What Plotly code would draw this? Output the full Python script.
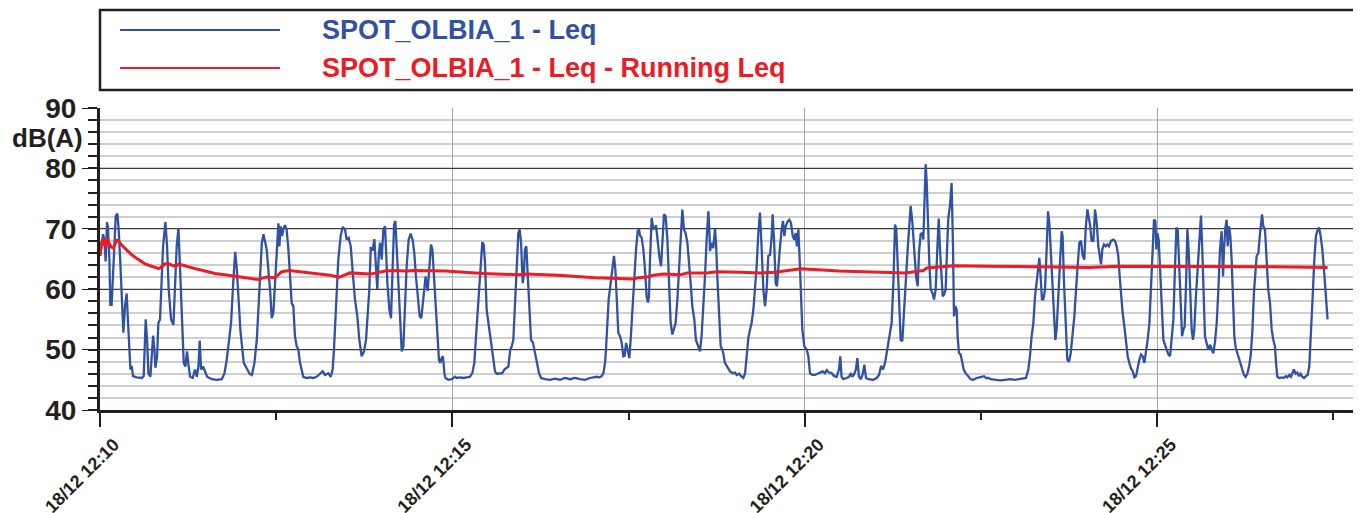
import pandas as pd
import plotly.graph_objects as go

# ---------------- data (seconds after 18/12 12:10:00, dB(A)) ----------------
leq_t = [
    0, 1.4, 2.6, 3.7, 4.8, 6.0, 6.8, 8.0, 8.8, 9.9, 11.1, 12.2, 13.4, 14.8, 15.9, 17.3, 18.8, 19.9,
    21.3, 22.7, 23.9, 25.0, 25.9, 27.0, 28.1, 31.3, 35.5, 37.2, 38.1, 38.9, 40.1, 41.2, 42.9, 44.0,
    45.2, 46.3, 47.2, 48.6, 49.7, 51.1, 52.3, 53.7, 55.7, 57.1, 58.5, 60.5, 62.5, 63.9, 65.3, 66.8,
    68.2, 69.6, 71.3, 72.7, 74.1, 75.3, 76.7, 78.9, 80.9, 82.4, 83.8, 84.9, 86.1, 87.8, 89.5, 91.2,
    95.2, 99.4, 103.7, 105.9, 107.9, 110.2, 111.6, 113.4, 115.1, 116.5, 117.9, 119.6, 122.4, 125.0,
    127.3, 129.3, 131.5, 133.5, 134.9, 136.4, 137.8, 139.2, 140.6,
    141.9, 145.0, 146.2, 147.6, 149.0, 150.4, 151.9, 152.7, 153.8, 155.0, 156.1, 157.5, 158.9, 160.4,
    161.8, 163.2, 164.6, 166.0, 167.4, 168.9, 170.3, 171.7, 173.1, 176.0, 178.8, 181.6, 184.4, 187.3,
    189.6, 191.6, 194.4, 196.4, 198.1, 199.2, 200.9, 202.9, 204.9, 206.6, 208.6, 210.0, 211.7, 213.5,
    215.2, 217.1, 219.1, 220.8, 222.8, 224.8, 226.5, 227.6, 229.3, 230.5, 232.2, 233.6, 234.7, 236.1,
    237.3, 238.4, 239.8, 241.3, 242.7, 243.5, 244.7, 246.4, 247.8, 249.2, 250.4, 251.5, 252.6, 254.0,
    255.4, 256.9, 258.3, 259.4, 261.1, 262.8, 264.5, 266.2, 267.6, 269.0, 270.8, 272.2, 273.6, 274.7,
    276.1, 277.2, 279.0,
    280.7, 281.8, 283.0, 284.7, 286.1, 287.5, 288.6, 289.8, 290.9, 292.0, 293.2, 294.2, 296.6, 299.4,
    302.3, 303.7, 306.5, 309.4, 312.2, 315.0, 317.0, 318.7, 319.8, 321.3, 322.7, 324.1, 325.5, 326.7,
    327.8, 329.2, 330.6, 332.1, 333.5, 334.9, 336.3, 337.7, 340.5, 342.6, 344.3, 345.7, 347.7, 349.3,
    350.5, 351.9, 353.3, 354.8, 356.2, 357.3, 358.5, 359.9, 361.0, 361.8, 363.0, 364.1, 365.5, 367.0,
    368.7, 370.4, 372.1, 373.8, 375.5, 378.9, 383.2, 387.4, 391.7, 395.9, 400.2, 404.4, 408.7, 412.9,
    417.2,
    420.0, 422.9, 425.2, 427.1, 428.6, 430.0, 430.8, 432.0, 433.1, 434.8, 436.2, 437.6, 438.8, 439.9,
    441.3, 442.8, 444.2, 445.6, 446.7, 447.9, 449.3, 450.7, 451.8, 453.2, 454.7, 456.4, 457.8, 458.9,
    459.8, 461.2, 462.6, 464.0, 465.4, 466.6, 467.4, 468.3, 469.7, 471.1, 472.6, 473.4, 474.8, 476.2,
    477.7, 479.1, 480.2, 481.6, 483.1, 484.5, 485.9, 487.3, 488.7, 490.1, 491.6, 493.0, 494.4, 495.8,
    497.2, 498.6, 500.1, 501.5, 502.9, 504.3, 506.0, 507.4, 509.2, 510.9, 512.3, 513.7, 515.1, 516.5,
    518.0, 518.8, 519.4, 520.8, 522.2, 523.6, 524.5, 525.6, 527.1, 528.5, 529.9, 530.7, 532.1, 533.6,
    535.0, 536.4, 538.7, 540.6, 542.1, 544.3, 546.3, 547.7, 549.2, 550.6, 552.0, 553.4, 554.8, 556.3,
    559.1, 560.5, 561.9, 563.4, 564.8, 566.2, 567.6, 569.0, 570.5, 571.9, 572.7, 573.9, 575.3, 576.4,
    577.6, 579.0, 580.4, 581.5, 582.7, 583.8, 585.2, 586.9, 588.3, 589.8, 591.2, 592.3, 593.4, 594.6,
    595.7, 596.9, 598.0, 599.7, 601.7, 603.1, 604.5, 606.5, 608.8, 611.0, 613.0, 615.3, 617.3, 618.7,
    620.7, 622.9, 625.2, 627.2, 629.2, 630.3, 631.4, 632.9, 635.7, 637.7, 639.4, 640.5, 642.3, 643.6,
    644.8, 646.2, 647.9, 649.6, 650.8, 652.2, 654.2, 658.4, 661.3, 663.3, 665.0, 666.7, 668.4, 669.8,
    671.2, 672.6, 674.0, 675.5, 676.9, 678.0, 679.2, 680.3, 681.7, 683.1, 684.6, 686.0, 687.7, 689.1,
    690.2, 691.7, 693.1, 694.8, 696.2, 697.3, 698.7, 700.2,
    701.0, 702.1, 703.0, 703.9, 705.0, 706.1, 707.3, 708.7, 710.1, 711.5, 713.0, 714.1, 715.2, 716.4,
    717.5, 718.6, 720.0, 721.2, 722.3, 723.7, 725.1, 726.3, 727.1, 728.3, 729.4, 730.2, 731.4, 732.8,
    733.9, 735.4, 737.0, 739.3, 741.3, 743.6, 746.4, 748.7, 750.7, 752.7, 754.4, 756.4, 758.3, 762.0,
    766.3, 770.6, 774.8, 779.1, 783.3, 786.7, 788.4, 790.4, 791.8, 793.2, 794.7, 796.1, 797.5, 798.9,
    799.8, 800.9, 802.0, 803.2, 804.6, 806.0, 807.2, 808.3, 809.4, 810.8, 812.3, 813.4, 814.5, 815.9,
    817.4, 818.8, 819.6, 820.8, 822.2, 823.6, 825.0, 826.5, 828.2, 829.6, 831.0, 832.4, 833.8, 835.3,
    836.7, 838.1, 839.2, 840.7,
    842.9, 844.3, 845.8, 847.2, 848.6, 850.0, 851.4, 852.3, 853.4, 854.8, 856.3, 857.7, 859.1, 860.8,
    862.8, 864.2, 865.6, 867.0, 868.2, 869.3, 870.7, 872.2, 873.6, 875.0, 876.4, 877.8, 879.3, 880.7,
    882.1, 883.5, 884.9, 886.4, 887.8, 889.2, 890.6, 892.0, 893.5, 894.9, 896.3, 897.4, 898.6, 899.4,
    900.3, 901.4, 902.5, 904.0, 905.4, 906.8, 908.2, 909.6, 911.1, 912.5, 913.9, 915.3, 916.5, 917.6,
    918.7, 920.1, 921.3, 922.4, 923.5, 924.7, 925.8, 926.9, 928.1, 929.5, 930.6, 931.7, 933.1, 934.6,
    936.3, 937.4, 938.5, 939.7, 940.8, 942.2, 943.6, 945.1, 946.5, 947.9, 949.3, 950.8, 952.2, 953.6,
    955.0, 956.2, 957.0, 958.2, 959.3, 960.1, 961.3, 962.4, 963.5, 964.7, 965.8, 967.0, 968.4, 969.8,
    971.2, 972.6, 974.0, 975.4, 976.9, 978.3, 979.7, 981.1, 982.5,
    984.8, 986.3, 987.7, 989.4, 990.5, 991.9, 993.3, 994.7, 996.2, 997.6, 999.0, 1000.4, 1001.3,
    1002.4, 1004.1, 1006.1, 1007.5, 1009.8, 1010.9, 1012.6, 1014.0, 1015.4, 1016.5, 1018.0, 1019.4,
    1020.8, 1022.2, 1023.6, 1025.1, 1026.8, 1028.2, 1029.6, 1031.0, 1032.5, 1033.9, 1035.3, 1036.4,
    1037.9, 1039.3, 1040.7, 1042.1, 1043.5, 1045.2,
]
leq_db = [
    65.5, 67.1, 69.1, 68.2, 64.6, 71.1, 70.2, 64.9, 57.4, 57.4, 62.1, 66.6, 72.1, 72.5, 69.9, 64.4, 58.8, 52.8,
    57.2, 59.3, 54.4, 50.0, 46.7, 47.3, 45.6, 45.4, 45.3, 45.6, 52.2, 55.0, 51.6, 46.1, 45.5, 48.9,
    52.3, 50.0, 47.0, 48.9, 54.4, 55.0, 59.9, 67.1, 71.1, 67.1, 59.9, 55.0, 54.1, 59.4, 67.1, 70.1,
    63.3, 55.5, 47.8, 47.2, 49.7, 47.5, 45.5, 45.3, 46.7, 45.5, 47.2, 51.5, 46.7, 47.2, 46.4, 45.5,
    45.1, 45.0, 45.1, 46.0, 48.3, 51.6, 54.4, 61.0, 66.2, 63.3, 57.7, 53.0, 47.8, 46.9,
    46.0, 45.8, 47.8, 51.6, 56.6, 62.7, 67.7, 69.1, 68.0,
    66.6, 59.4, 55.2, 56.1, 61.0, 66.6, 70.9, 67.1, 70.4, 68.8, 69.9, 70.6, 69.9, 66.6,
    62.1, 57.7, 57.2, 52.2, 50.6, 50.0, 47.8, 46.4, 45.5, 45.3, 45.4, 45.3, 45.5, 46.0,
    46.4, 45.8, 46.1, 45.5, 46.7, 50.0, 56.6, 64.9, 68.8, 70.3, 69.9, 68.2, 68.5, 67.1,
    62.7, 58.3, 55.5, 51.6, 48.9, 49.7, 51.6, 54.4, 59.9, 66.8, 66.6, 68.3, 64.3, 59.9,
    65.5, 67.7, 64.9, 69.9, 70.4, 66.6, 61.0, 56.6, 55.2, 63.8, 70.7, 71.3, 66.6, 60.5,
    54.4, 49.7, 50.5, 55.5, 63.8, 68.2, 69.2, 68.2, 66.0, 62.1, 57.7, 55.5, 55.2, 57.7,
    61.0, 62.1, 59.7,
    64.4, 67.4, 66.6, 61.0, 56.6, 52.2, 48.3, 47.8, 48.6, 48.9, 46.1, 45.3, 45.0, 45.1,
    45.5, 45.3, 45.4, 45.3, 45.4, 45.5, 46.1, 47.8, 51.1, 55.5, 61.0, 65.5, 67.8, 67.4,
    64.4, 56.6, 54.4, 52.2, 50.0, 48.0, 46.4, 46.0, 46.1, 46.1, 46.7, 46.9, 47.2, 50.0,
    50.5, 51.6, 57.7, 64.9, 69.3, 69.9, 67.7, 61.0, 62.7, 66.6, 67.1, 62.7, 57.2, 51.6,
    51.1, 49.4, 47.8, 46.1, 45.3, 45.1, 45.0, 45.2, 45.0, 45.3, 45.1, 45.3, 45.1, 45.0,
    45.3,
    45.4, 45.5, 45.4, 45.6, 46.1, 47.8, 50.0, 54.4, 58.3, 61.0, 63.8, 65.5, 63.3, 57.2,
    52.8, 52.2, 51.1, 48.9, 49.0, 51.1, 50.0, 48.6, 51.6, 55.5, 61.0, 66.6, 69.6, 69.9,
    68.9, 68.5, 66.6, 63.3, 58.8, 57.8, 58.8, 64.9, 71.8, 69.9, 70.2, 70.6, 67.7, 65.5,
    63.8, 69.3, 72.4, 72.1, 68.2, 61.0, 54.4, 52.5, 53.6, 54.4, 58.3, 62.7, 67.7, 73.2,
    69.9, 69.3, 67.7, 64.9, 61.0, 57.2, 55.0, 51.6, 50.5, 49.7, 52.5, 56.6, 62.1, 68.2,
    72.9, 69.9, 66.3, 67.7, 66.8, 70.0, 67.7, 62.1, 55.5, 50.5, 50.0, 49.4, 47.8, 47.3,
    46.7, 46.4, 46.1, 46.2, 45.8, 46.0, 45.5, 45.3, 46.0, 48.9, 51.9, 53.3, 54.4, 56.6,
    63.8, 69.3, 72.7, 66.6, 59.9, 57.2, 59.9, 65.5, 65.7, 68.8, 72.4, 68.2, 61.0, 60.5,
    64.4, 67.1, 69.9, 71.3, 68.8, 70.4, 71.1, 71.5, 71.0, 68.8, 68.2, 69.3, 67.1, 69.9,
    64.9, 58.3, 53.3, 50.5, 50.0, 48.9, 46.1, 45.8, 45.8, 46.0, 46.2, 46.4, 46.1, 46.6,
    46.2, 46.1, 45.6, 45.5, 46.7, 48.9, 45.5, 45.1, 45.3, 45.5, 46.1, 45.5, 46.0, 46.7,
    48.6, 45.5, 45.1, 46.1, 47.5, 45.3, 45.1, 45.0, 45.3, 45.8, 47.3, 46.7, 47.8, 49.4,
    51.1, 52.2, 54.4, 61.0, 70.7, 69.9, 64.4, 58.8, 51.6, 51.4, 55.5, 61.0, 66.6, 71.0,
    73.8, 71.0, 66.6, 62.1, 60.5, 66.0, 69.1, 69.3,
    68.2, 74.9, 80.7, 77.6, 69.3, 64.4, 59.9, 59.4, 58.3, 59.9, 67.1, 71.7, 66.6, 61.0,
    58.8, 59.1, 59.9, 66.6, 71.8, 73.8, 77.6, 66.6, 55.5, 57.2, 56.6, 52.2, 49.4, 49.2,
    47.8, 46.7, 46.1, 45.5, 45.1, 45.0, 45.3, 45.4, 45.5, 45.6, 45.3, 45.3, 45.1, 45.0,
    44.9, 45.0, 45.1, 45.0, 45.1, 45.2, 45.3, 46.7, 48.9, 52.2, 54.4, 58.8, 61.3, 64.4,
    65.2, 62.1, 58.3, 58.3, 59.9, 66.6, 72.9, 71.0, 66.6, 59.9, 55.0, 51.6, 53.3, 59.9,
    64.4, 69.6, 68.8, 61.0, 53.3, 48.3, 48.0, 49.4, 52.8, 55.5, 59.9, 64.9, 67.7, 68.0,
    65.5, 64.9, 69.9, 73.2,
    70.7, 68.0, 68.0, 73.2, 71.0, 67.1, 64.9, 64.1, 66.6, 67.4, 67.1, 67.4, 67.1, 68.0,
    68.2, 68.0, 67.1, 65.5, 62.1, 58.8, 56.1, 53.8, 51.1, 48.9, 47.8, 46.9, 46.4, 45.4,
    45.6, 47.2, 48.3, 49.2, 48.9, 47.8, 49.4, 51.6, 54.4, 59.4, 66.6, 71.5, 71.3, 66.6,
    69.3, 68.2, 63.8, 56.6, 51.6, 50.8, 50.0, 49.2, 48.9, 51.6, 55.0, 63.8, 70.2, 69.9,
    63.8, 57.2, 52.2, 53.3, 53.8, 61.0, 69.9, 66.6, 59.4, 53.3, 51.6, 53.3, 58.8, 63.8,
    69.3, 72.2, 66.6, 58.8, 52.2, 51.1, 50.0, 50.8, 50.1, 49.4, 51.2, 54.4, 59.9, 66.6,
    69.6, 62.1, 66.6, 70.2, 71.5, 67.1, 70.4, 68.8, 64.9, 57.7, 52.2, 50.3, 49.4, 48.9,
    47.8, 46.7, 45.8, 45.5, 46.0, 47.2, 48.9, 52.8, 59.4,
    65.5, 66.0, 69.3, 72.4, 70.4, 69.9, 64.9, 59.9, 57.7, 53.3, 51.6, 50.5, 47.8,
    45.5, 45.3, 45.4, 45.3, 45.6, 45.4, 45.8, 45.5, 46.2, 46.7, 46.0, 46.2,
    45.6, 46.0, 45.5, 45.3, 45.6, 45.8, 47.2, 52.2, 58.8, 64.9, 68.8, 69.6,
    70.2, 68.8, 66.6, 63.3, 58.8, 55.0,
]

run_t = [
    0, 1.4, 2.8, 3.7, 4.8, 6.2, 7.7, 9.4, 11.4, 12.8, 14.2, 15.6, 18.5, 22.7, 27.0, 32.7, 38.3, 44.0,
    50.2, 52.5, 55.3, 58.2, 62.4, 65.3, 67.3, 70.1, 75.2, 80.9, 89.4, 97.9, 109.3, 117.8, 126.3,
    134.8, 137.6, 141.9, 149.0, 151.9, 154.7, 161.2, 178.8, 195.8, 203.9, 208.6, 212.9, 229.9,
    235.6, 242.7, 249.7, 261.1, 266.8, 281.0, 293.8, 326.4, 356.2, 361.8, 390.2, 421.4, 454.1,
    458.4, 465.4, 471.1, 480.2, 494.4, 500.1, 516.5, 525.6, 545.5, 562.5, 574.7, 586.5, 596.6,
    629.2, 657.6, 686.0, 697.6, 701.0, 703.9, 723.7, 726.6, 755.0, 783.3, 811.7, 842.9, 867.0,
    900.0, 950.0, 1000.0, 1045.2,
]
run_db = [
    65.6, 67.7, 68.3, 67.4, 67.1, 68.5, 67.6, 67.0, 66.8, 67.4, 68.1, 68.0, 67.3, 66.5, 65.7, 64.9, 64.2, 63.8,
    63.4, 63.7, 64.2, 64.2, 63.9, 63.9, 64.2, 64.0, 63.7, 63.4, 63.0, 62.6, 62.3, 62.1, 61.9,
    61.6, 61.8, 62.0, 61.9, 62.4, 62.9, 63.1, 62.7, 62.3, 62.0, 62.4, 62.7, 62.5,
    62.7, 63.0, 63.1, 63.0, 63.1, 63.1, 63.0, 62.6, 62.4, 62.5, 62.3, 61.9, 61.7,
    61.9, 62.0, 62.3, 62.5, 62.4, 62.7, 62.7, 62.9, 62.8, 62.7, 62.8, 63.1, 63.4,
    63.0, 62.8, 62.7, 63.0, 63.1, 63.5, 63.8, 63.9, 63.8, 63.7, 63.6, 63.6, 63.8,
    63.8, 63.7, 63.7, 63.6,
]

series_names = ["SPOT_OLBIA_1 - Leq", "SPOT_OLBIA_1 - Leq - Running Leq"]
y_ticks = [40, 50, 60, 70, 80, 90]
start_time = "2023-12-18 12:10:00"
end_time = "2023-12-18 12:27:52.8"

# ---------------- figure ----------------
BLUE = "#3152a4"
RED = "#ec1c24"
INK = "#231f20"
FONT = "Liberation Sans, Arial, sans-serif"

base = pd.Timestamp(start_time)
leq_x = base + pd.to_timedelta(leq_t, unit="s")
run_x = base + pd.to_timedelta(run_t, unit="s")

fig = go.Figure()
fig.add_trace(go.Scatter(x=leq_x, y=leq_db, mode="lines", name=series_names[0],
                         line=dict(color=BLUE, width=2.3), showlegend=False))
fig.add_trace(go.Scatter(x=run_x, y=run_db, mode="lines", name=series_names[1],
                         line=dict(color=RED, width=3), showlegend=False))

# page body has an 8px default margin, so the figure is sized to fit the window
fig.update_layout(
    width=1353, height=505,
    margin=dict(l=92, r=1, t=100, b=103),
    paper_bgcolor="white", plot_bgcolor="white",
    font=dict(family=FONT, color=INK),
)

fig.update_xaxes(
    type="date", range=[start_time, end_time], automargin=False,
    tick0=start_time, dtick=300000, tickformat="%d/%m %H:%M",
    tickangle=-45, tickfont=dict(size=18, weight="bold", color=INK),
    ticklabelshift=14,
    showgrid=True, gridcolor="#a6a6a6", gridwidth=1,
    showline=True, linecolor=INK, linewidth=3,
    ticks="outside", ticklen=14, tickwidth=1.5, tickcolor=INK,
    minor=dict(dtick=150000, tick0=start_time, ticks="outside", ticklen=7,
               tickwidth=1.5, tickcolor=INK, showgrid=False),
    zeroline=False,
)
fig.update_yaxes(
    range=[40, 90], tickvals=y_ticks, automargin=False,
    tickfont=dict(size=28, weight="bold", color=INK),
    showgrid=True, gridcolor="#3c3c3c", gridwidth=1,
    showline=True, linecolor=INK, linewidth=3,
    ticks="outside", ticklen=15, tickwidth=1, tickcolor=INK,
    minor=dict(dtick=2, tick0=40, ticks="outside", ticklen=9, tickwidth=1.5,
               tickcolor=INK, showgrid=True, gridcolor="#cfcfcf", gridwidth=1.5),
    zeroline=False,
)

# axis unit label
fig.add_annotation(text="dB(A)", xref="paper", yref="y", x=-0.012, y=85,
                   xanchor="right", yanchor="middle", showarrow=False,
                   font=dict(size=26, weight="bold", color=INK, family=FONT))

# custom legend box
fig.add_shape(type="rect", xref="paper", yref="paper", x0=0, x1=1.02,
              y0=1.0596, y1=1.3245, line=dict(color=INK, width=2.5),
              fillcolor="white", layer="above")
fig.add_shape(type="line", xref="paper", yref="paper", x0=0.0159, x1=0.1429,
              y0=1.2583, y1=1.2583, line=dict(color=BLUE, width=2))
fig.add_shape(type="line", xref="paper", yref="paper", x0=0.0159, x1=0.1429,
              y0=1.1325, y1=1.1325, line=dict(color=RED, width=2))
fig.add_annotation(text=series_names[0], xref="paper", yref="paper", x=0.1746, y=1.2583,
                   xanchor="left", yanchor="middle", showarrow=False,
                   font=dict(size=27, weight="bold", color=BLUE, family=FONT))
fig.add_annotation(text=series_names[1], xref="paper", yref="paper", x=0.1746, y=1.1325,
                   xanchor="left", yanchor="middle", showarrow=False,
                   font=dict(size=27, weight="bold", color=RED, family=FONT))

fig.write_html("out.html")
